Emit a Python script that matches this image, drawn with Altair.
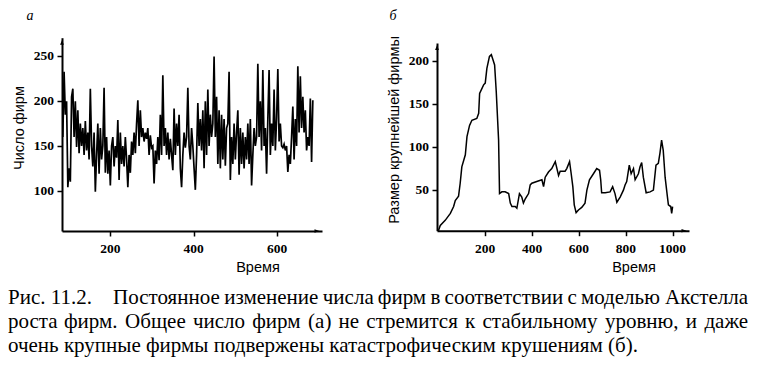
import altair as alt
import pandas as pd

# ---------------- data ----------------
# Panel (а): total number of firms over time
time_a = list(range(86, 687, 3))
firms_a = [
    160, 233, 185, 200, 104, 125, 110, 205, 214, 160, 200, 149,
    190, 142, 175, 150, 170, 140, 178, 145, 165, 135, 214, 150,
    127, 165, 99, 140, 175, 119, 170, 135, 150, 215, 120, 160,
    119, 145, 106, 150, 160, 127, 150, 137, 179, 112, 165, 130,
    150, 127, 160, 135, 104, 140, 120, 155, 140, 165, 142, 175,
    201, 150, 190, 160, 170, 155, 165, 158, 170, 140, 162, 148,
    150, 108, 145, 130, 160, 134, 185, 140, 229, 150, 170, 140,
    165, 135, 158, 140, 123, 192, 140, 175, 150, 185, 125, 104,
    140, 165, 148, 160, 215, 150, 135, 170, 150, 125, 101, 140,
    198, 150, 180, 145, 190, 125, 200, 140, 213, 150, 185, 160,
    175, 250, 160, 205, 130, 190, 125, 185, 135, 180, 128, 170,
    175, 233, 112, 160, 130, 175, 135, 165, 190, 118, 170, 130,
    165, 125, 160, 135, 175, 130, 180, 106, 140, 170, 150, 160,
    242, 160, 200, 145, 235, 150, 170, 119, 180, 235, 140, 175,
    150, 213, 145, 180, 236, 155, 175, 150, 148, 152, 145, 150,
    121, 140, 130, 160, 194, 135, 180, 150, 239, 165, 228, 170,
    205, 165, 190, 145, 160, 150, 203, 132, 201,
]

# Panel (б): size of the largest firm over time
time_b = [0, 8, 29, 51, 65, 72, 86, 93, 100, 115, 122, 133, 143, 164, 172, 176,
          193, 200, 207, 218, 226, 233, 240, 247, 257, 261, 271, 285, 300, 307,
          314, 328, 335, 346, 356, 363, 371, 385, 392, 399, 420, 442, 449, 456,
          470, 484, 499, 513, 520, 541, 548, 560, 567, 574, 580, 588, 598, 612,
          626, 634, 645, 662, 676, 688, 693, 697, 712, 733, 744, 754, 762, 776,
          790, 797, 804, 815, 823, 833, 840, 854, 861, 868, 875, 887, 904, 918,
          929, 939, 946, 953, 960, 968, 978, 982, 992, 996, 1000]
size_b = [3, 9, 15, 23, 31, 38, 43, 58, 77, 91, 112, 125, 131, 133, 139, 162,
          172, 174, 191, 205, 207, 201, 195, 164, 108, 46, 48, 48, 46, 35,
          31, 31, 29, 46, 42, 35, 40, 46, 56, 58, 60, 62, 54, 65,
          71, 75, 83, 67, 72, 72, 75, 83, 69, 54, 33, 24, 27, 30,
          35, 50, 62, 69, 75, 73, 62, 47, 47, 48, 54, 46, 36, 42,
          50, 56, 60, 79, 69, 75, 62, 69, 77, 82, 65, 47, 48, 50,
          79, 81, 93, 108, 96, 65, 42, 33, 31, 23, 31]

ticks_a_x = [200, 400, 600]
ticks_a_y = [100, 150, 200, 250]
ticks_b_x = [200, 400, 600, 800, 1000]
ticks_b_y = [50, 100, 150, 200]

label_a = "а"
label_b = "б"
ytitle_a = "Число фирм"
ytitle_b = "Размер крупнейшей фирмы"
xtitle = "Время"
cap_fig = "Рис. 11.2."
cap_line1 = "Постоянное изменение числа фирм в соответствии с моделью Акстелла"
cap_line2 = "роста фирм. Общее число фирм (а) не стремится к стабильному уровню, и даже"
cap_line3 = "очень крупные фирмы подвержены катастрофическим крушениям (б)."

# ---------------- layout ----------------
W, H = 743, 355
x_dom_a, x_rng_a = [84, 708], [54, 314]
y_dom_a, y_rng_a = [55, 271], [223, 29.7]
x_dom_b, x_rng_b = [-6, 1070], [429, 681]
y_dom_b, y_rng_b = [3, 220.5], [222.7, 35]

LAB = dict(font="Liberation Serif", fontWeight="bold", fontSize=13.5, color="black")


def panel(df_line, xdom, xrng, ydom, yrng, xticks, yticks, sw):
    xs = alt.Scale(domain=xdom, range=xrng, nice=False, zero=False)
    ys = alt.Scale(domain=ydom, range=yrng, nice=False, zero=False)
    xax = alt.Axis(orient="bottom", offset=-(H - yrng[0]), values=xticks,
                   labels=False, title=None)
    yax = alt.Axis(orient="left", offset=-xrng[0], values=yticks,
                   labels=False, title=None)
    X = alt.X("t:Q", scale=xs, axis=xax)
    Y = alt.Y("v:Q", scale=ys, axis=yax)
    line = alt.Chart(df_line).mark_line(color="black", strokeWidth=sw).encode(x=X, y=Y)
    up = alt.Chart(pd.DataFrame({"t": [xdom[0]], "v": [ydom[1]]})).mark_point(
        shape="M-0.4,0.5L0,-0.5L0.4,0.5Z", size=90, filled=True, opacity=1,
        color="black", yOffset=4.7).encode(x=X, y=Y)
    right = alt.Chart(pd.DataFrame({"t": [xdom[1]], "v": [ydom[0]]})).mark_point(
        shape="M-0.5,-0.35L0.5,0L-0.5,0.35Z", size=100, filled=True, opacity=1,
        color="black", xOffset=-5).encode(x=X, y=Y)
    # tick labels drawn through the panel's own scales
    xlab = alt.Chart(pd.DataFrame({"t": xticks})).mark_text(
        baseline="middle", align="center", **LAB).encode(
        x=X, y=alt.value(yrng[0] + 18), text=alt.Text("t:Q", format="d"))
    ylab = alt.Chart(pd.DataFrame({"v": yticks})).mark_text(
        baseline="middle", align="right", **LAB).encode(
        y=Y, x=alt.value(xrng[0] - 8), text=alt.Text("v:Q", format="d"))
    return alt.layer(line, up, right, xlab, ylab)


pa = panel(pd.DataFrame({"t": time_a, "v": firms_a}), x_dom_a, x_rng_a,
           y_dom_a, y_rng_a, ticks_a_x, ticks_a_y, 1.7)
pb = panel(pd.DataFrame({"t": time_b, "v": size_b}), x_dom_b, x_rng_b,
           y_dom_b, y_rng_b, ticks_b_x, ticks_b_y, 1.5)


def text(s, x, y, **kw):
    return alt.Chart(pd.DataFrame({"s": [s]})).mark_text(color="black", **kw).encode(
        text="s:N", x=alt.value(x), y=alt.value(y))


# --- justified caption: approximate Times/Liberation Serif advance widths (per 1000 em)
CW = {
    "а": 444, "б": 509, "в": 472, "г": 410, "д": 509, "е": 444, "ж": 691, "з": 395,
    "и": 535, "й": 535, "к": 486, "л": 499, "м": 633, "н": 535, "о": 500, "п": 535,
    "р": 500, "с": 444, "т": 437, "у": 500, "ф": 648, "х": 500, "ц": 535, "ч": 503,
    "ш": 770, "щ": 770, "ъ": 517, "ы": 672, "ь": 456, "э": 429, "ю": 747, "я": 484,
    "А": 722, "О": 722, "П": 722, "Р": 556, ".": 250, ",": 250, "(": 333, ")": 333,
}
CAP_FS = 21


def wwidth(w):
    return sum(CW.get(c, 500) for c in w) * CAP_FS / 1000


def justified(line, x0, x1):
    words = line.split(" ")
    widths = [wwidth(w) for w in words]
    gap = (x1 - x0 - sum(widths)) / (len(words) - 1)
    xs, x = [], x0
    for w in widths:
        xs.append(x)
        x += w + gap
    al = ["left"] * (len(words) - 1) + ["right"]
    xs[-1] = x1
    return pd.DataFrame({"w": words, "px": xs, "al": al})


def caption_layer(df, y):
    layers = []
    for a in ["left", "right"]:
        sub = df[df["al"] == a]
        layers.append(alt.Chart(sub).mark_text(
            color="black", font="Liberation Serif", fontSize=CAP_FS, align=a,
            baseline="middle").encode(
            text="w:N", x=alt.X("px:Q", scale=None, axis=None), y=alt.value(y)))
    return layers


sans = dict(font="Liberation Sans", fontSize=14.5)
texts = [
    text(label_a, 22, 12, font="Liberation Serif", fontStyle="italic", fontSize=14,
         baseline="alphabetic"),
    text(label_b, 385, 12, font="Liberation Serif", fontStyle="italic", fontSize=14,
         baseline="alphabetic"),
    text(ytitle_a, 12, 120, angle=270, baseline="middle", **sans),
    text(ytitle_b, 387, 122, angle=270, baseline="middle", **sans),
    text(xtitle, 250, 260, baseline="middle", **sans),
    text(xtitle, 626, 260, baseline="middle", **sans),
    text(cap_fig, 0, 290, align="left", baseline="middle", font="Liberation Serif",
         fontSize=CAP_FS),
    text(cap_line3, 0, 338, align="left", baseline="middle", font="Liberation Serif",
         fontSize=CAP_FS),
]
texts += caption_layer(justified(cap_line1, 105, 740), 290)
texts += caption_layer(justified(cap_line2, 0, 740), 314)

chart = alt.layer(pa, pb, *texts).resolve_scale(
    x="independent", y="independent"
).properties(
    width=W, height=H, padding=0, autosize=alt.AutoSizeParams(type="none"),
    background="white",
).configure_view(stroke=None).configure_axis(
    domainColor="black", domainWidth=2, tickColor="black", tickWidth=1.5,
    tickSize=5, grid=False,
)

chart.save("out.html", embed_options={"renderer": "svg", "actions": False})
